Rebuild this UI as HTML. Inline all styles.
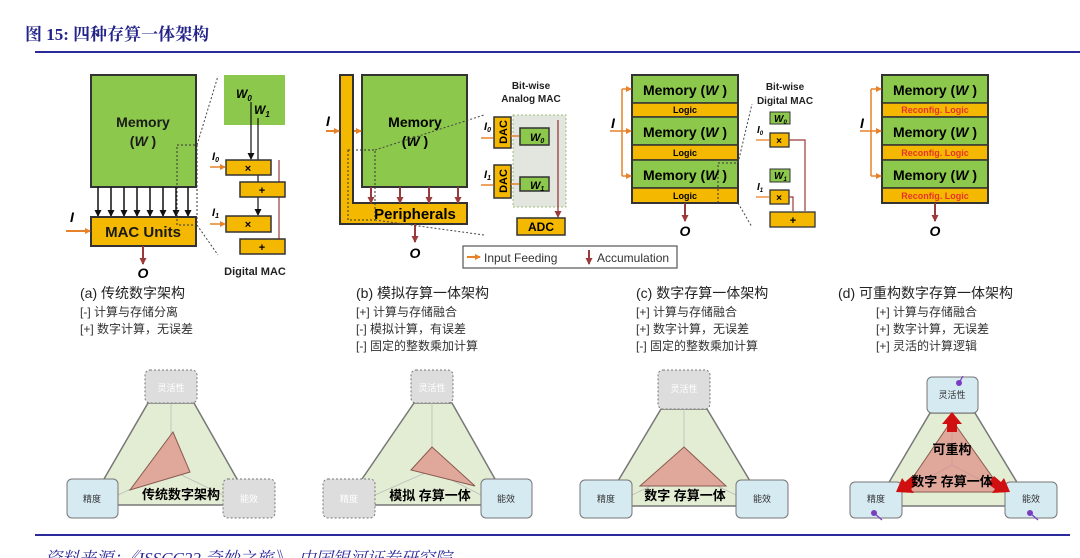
<!DOCTYPE html>
<html><head><meta charset="utf-8"><style>
html,body{margin:0;padding:0;background:#fff;}
svg{display:block;font-family:"Liberation Sans","Noto Sans CJK SC",sans-serif;}
</style></head><body>
<svg width="1080" height="558" viewBox="0 0 1080 558" xmlns="http://www.w3.org/2000/svg">
<defs>
<marker id="ao" markerWidth="6" markerHeight="6" refX="5" refY="3" orient="auto" markerUnits="userSpaceOnUse"><path d="M0,0 L6,3 L0,6z" fill="#e8822a"/></marker>
<marker id="ar" markerWidth="7" markerHeight="7" refX="6" refY="3.5" orient="auto" markerUnits="userSpaceOnUse"><path d="M0,0 L7,3.5 L0,7z" fill="#9b3a3a"/></marker>
<marker id="ak" markerWidth="7" markerHeight="7" refX="6" refY="3.5" orient="auto" markerUnits="userSpaceOnUse"><path d="M0,0 L7,3.5 L0,7z" fill="#111"/></marker>
</defs>
<!-- header -->
<text x="25" y="40" font-family="'Liberation Serif','Noto Serif CJK SC',serif" font-weight="bold" font-size="17" fill="#23238a">图 15:  四种存算一体架构</text>
<line x1="35" y1="52" x2="1080" y2="52" stroke="#2a2a9a" stroke-width="2"/>

<!-- Panel a -->
<rect x="91" y="75" width="105" height="112" fill="#8cc84b" stroke="#333" stroke-width="2"/>
<text x="143" y="127" text-anchor="middle" font-weight="bold" font-size="14" fill="#1a1a1a">Memory</text>
<text x="143" y="146" text-anchor="middle" font-weight="bold" font-size="14" fill="#1a1a1a">(<tspan font-style="italic">W</tspan> )</text>
<g stroke="#111" stroke-width="1.5" marker-end="url(#ak)">
<line x1="98" y1="187" x2="98" y2="216"/><line x1="111" y1="187" x2="111" y2="216"/><line x1="124" y1="187" x2="124" y2="216"/><line x1="137" y1="187" x2="137" y2="216"/><line x1="150" y1="187" x2="150" y2="216"/><line x1="163" y1="187" x2="163" y2="216"/><line x1="176" y1="187" x2="176" y2="216"/><line x1="188" y1="187" x2="188" y2="216"/>
</g>
<rect x="91" y="217" width="105" height="29" fill="#f5b800" stroke="#333" stroke-width="2"/>
<text x="143" y="237" text-anchor="middle" font-weight="bold" font-size="15" fill="#1a1a1a">MAC Units</text>
<text x="70" y="222" font-weight="bold" font-style="italic" font-size="14">I</text>
<line x1="66" y1="231" x2="90" y2="231" stroke="#e8822a" stroke-width="2" marker-end="url(#ao)"/>
<line x1="143" y1="246" x2="143" y2="264" stroke="#9b3a3a" stroke-width="2" marker-end="url(#ar)"/>
<text x="143" y="278" text-anchor="middle" font-weight="bold" font-style="italic" font-size="14">O</text>
<rect x="177" y="145" width="20" height="80" fill="none" stroke="#333" stroke-dasharray="2,2"/>
<line x1="197" y1="145" x2="218" y2="76" stroke="#444" stroke-dasharray="2,2"/>
<line x1="197" y1="225" x2="218" y2="255" stroke="#444" stroke-dasharray="2,2"/>
<rect x="224" y="75" width="61" height="50" fill="#8cc84b"/>
<text x="236" y="98" font-weight="bold" font-style="italic" font-size="12">W<tspan font-size="8" dy="3">0</tspan></text>
<text x="254" y="114" font-weight="bold" font-style="italic" font-size="12">W<tspan font-size="8" dy="3">1</tspan></text>
<line x1="251" y1="102" x2="251" y2="159" stroke="#111" stroke-width="1.2" marker-end="url(#ak)"/>
<line x1="258" y1="118" x2="258" y2="215" stroke="#111" stroke-width="1.2" marker-end="url(#ak)"/>
<line x1="279" y1="160" x2="279" y2="250" stroke="#9b3a3a" stroke-width="1.2"/>
<rect x="226" y="160" width="45" height="15" fill="#f5b800" stroke="#333" stroke-width="1.5"/><text x="248" y="172" text-anchor="middle" font-weight="bold" font-size="11">×</text>
<rect x="240" y="182" width="45" height="15" fill="#f5b800" stroke="#333" stroke-width="1.5"/><text x="262" y="194" text-anchor="middle" font-weight="bold" font-size="11">+</text>
<rect x="226" y="216" width="45" height="16" fill="#f5b800" stroke="#333" stroke-width="1.5"/><text x="248" y="228" text-anchor="middle" font-weight="bold" font-size="11">×</text>
<rect x="240" y="239" width="45" height="15" fill="#f5b800" stroke="#333" stroke-width="1.5"/><text x="262" y="251" text-anchor="middle" font-weight="bold" font-size="11">+</text>
<text x="212" y="160" font-weight="bold" font-style="italic" font-size="11">I<tspan font-size="7" dy="2">0</tspan></text>
<text x="212" y="216" font-weight="bold" font-style="italic" font-size="11">I<tspan font-size="7" dy="2">1</tspan></text>
<line x1="210" y1="167" x2="225" y2="167" stroke="#e8822a" stroke-width="1.5" marker-end="url(#ao)"/>
<line x1="210" y1="224" x2="225" y2="224" stroke="#e8822a" stroke-width="1.5" marker-end="url(#ao)"/>
<text x="255" y="275" text-anchor="middle" font-weight="bold" font-size="11" fill="#222">Digital MAC</text>

<!-- Panel b -->
<path d="M340,75 H353 V203 H467 V224 H340 Z" fill="#f5b800" stroke="#333" stroke-width="2"/>
<rect x="362" y="75" width="105" height="112" fill="#8cc84b" stroke="#333" stroke-width="2"/>
<text x="415" y="127" text-anchor="middle" font-weight="bold" font-size="14">Memory</text>
<text x="415" y="146" text-anchor="middle" font-weight="bold" font-size="14">(<tspan font-style="italic">W</tspan> )</text>
<text x="415" y="219" text-anchor="middle" font-weight="bold" font-size="15">Peripherals</text>
<text x="326" y="126" font-weight="bold" font-style="italic" font-size="14">I</text>
<line x1="326" y1="131" x2="339" y2="131" stroke="#e8822a" stroke-width="2" marker-end="url(#ao)"/>
<line x1="354" y1="131" x2="361" y2="131" stroke="#e8822a" stroke-width="2" marker-end="url(#ao)"/>
<g stroke="#9b3a3a" stroke-width="2" marker-end="url(#ar)"><line x1="371" y1="187" x2="371" y2="203"/><line x1="400" y1="187" x2="400" y2="203"/><line x1="429" y1="187" x2="429" y2="203"/><line x1="458" y1="187" x2="458" y2="203"/><line x1="415" y1="224" x2="415" y2="242"/></g>
<text x="415" y="258" text-anchor="middle" font-weight="bold" font-style="italic" font-size="14">O</text>
<rect x="348" y="150" width="27" height="70" fill="none" stroke="#333" stroke-dasharray="2,2"/>
<line x1="375" y1="150" x2="484" y2="115" stroke="#444" stroke-dasharray="2,2"/>
<line x1="375" y1="220" x2="484" y2="235" stroke="#444" stroke-dasharray="2,2"/>
<text x="531" y="89" text-anchor="middle" font-weight="bold" font-size="10" fill="#222">Bit-wise</text>
<text x="531" y="102" text-anchor="middle" font-weight="bold" font-size="10" fill="#222">Analog MAC</text>
<rect x="513" y="115" width="53" height="92" fill="#e3e6de" stroke="#9bbf7b" stroke-dasharray="2,2"/>
<rect x="494" y="117" width="17" height="31" fill="#f5b800" stroke="#333" stroke-width="1.5"/>
<text transform="translate(507,132) rotate(-90)" text-anchor="middle" font-weight="bold" font-size="11">DAC</text>
<rect x="494" y="165" width="17" height="33" fill="#f5b800" stroke="#333" stroke-width="1.5"/>
<text transform="translate(507,181) rotate(-90)" text-anchor="middle" font-weight="bold" font-size="11">DAC</text>
<rect x="520" y="128" width="29" height="17" fill="#8cc84b" stroke="#333" stroke-width="1.5"/><text x="530" y="141" font-weight="bold" font-style="italic" font-size="11">W<tspan font-size="7" dy="2">0</tspan></text>
<rect x="520" y="177" width="29" height="14" fill="#8cc84b" stroke="#333" stroke-width="1.5"/><text x="530" y="189" font-weight="bold" font-style="italic" font-size="11">W<tspan font-size="7" dy="2">1</tspan></text>
<line x1="558" y1="120" x2="558" y2="217" stroke="#9b3a3a" stroke-width="1.3" marker-end="url(#ar)"/>
<line x1="511" y1="136" x2="519" y2="136" stroke="#e8822a" stroke-width="1.5"/>
<line x1="511" y1="184" x2="519" y2="184" stroke="#e8822a" stroke-width="1.5"/>
<line x1="481" y1="138" x2="493" y2="138" stroke="#e8822a" stroke-width="1.5"/>
<line x1="481" y1="185" x2="493" y2="185" stroke="#e8822a" stroke-width="1.5"/>
<text x="484" y="130" font-weight="bold" font-style="italic" font-size="11">I<tspan font-size="7" dy="2">0</tspan></text>
<text x="484" y="178" font-weight="bold" font-style="italic" font-size="11">I<tspan font-size="7" dy="2">1</tspan></text>
<rect x="517" y="218" width="48" height="17" fill="#f5b800" stroke="#333" stroke-width="1.5"/>
<text x="541" y="231" text-anchor="middle" font-weight="bold" font-size="12">ADC</text>
<rect x="463" y="246" width="214" height="22" fill="#fff" stroke="#555" stroke-width="1.2"/>
<line x1="467" y1="257" x2="480" y2="257" stroke="#e8822a" stroke-width="2" marker-end="url(#ao)"/>
<text x="484" y="262" font-size="12" fill="#333">Input Feeding</text>
<line x1="589" y1="250" x2="589" y2="264" stroke="#9b3a3a" stroke-width="2" marker-end="url(#ar)"/>
<text x="597" y="262" font-size="12" fill="#333">Accumulation</text>

<!-- Panel c -->
<g stroke="#333" stroke-width="1.5">
<rect x="632" y="75" width="106" height="28" fill="#8cc84b"/><rect x="632" y="103" width="106" height="14" fill="#f5b800"/>
<rect x="632" y="117" width="106" height="28" fill="#8cc84b"/><rect x="632" y="145" width="106" height="15" fill="#f5b800"/>
<rect x="632" y="160" width="106" height="28" fill="#8cc84b"/><rect x="632" y="188" width="106" height="15" fill="#f5b800"/>
</g>
<rect x="632" y="75" width="106" height="128" fill="none" stroke="#333" stroke-width="2"/>
<g font-weight="bold" font-size="14" text-anchor="middle"><text x="685" y="95">Memory (<tspan font-style="italic">W</tspan> )</text><text x="685" y="137">Memory (<tspan font-style="italic">W</tspan> )</text><text x="685" y="180">Memory (<tspan font-style="italic">W</tspan> )</text></g>
<g font-weight="bold" font-size="9" text-anchor="middle"><text x="685" y="113">Logic</text><text x="685" y="156">Logic</text><text x="685" y="199">Logic</text></g>
<text x="611" y="128" font-weight="bold" font-style="italic" font-size="14">I</text>
<path d="M622,89 V176 M610,131 H622" stroke="#e8822a" stroke-width="1.5" fill="none"/>
<g stroke="#e8822a" stroke-width="1.5" marker-end="url(#ao)"><line x1="622" y1="89" x2="631" y2="89"/><line x1="622" y1="131" x2="631" y2="131"/><line x1="622" y1="176" x2="631" y2="176"/></g>
<line x1="685" y1="203" x2="685" y2="221" stroke="#9b3a3a" stroke-width="2" marker-end="url(#ar)"/>
<text x="685" y="236" text-anchor="middle" font-weight="bold" font-style="italic" font-size="14">O</text>
<rect x="718" y="163" width="20" height="40" fill="none" stroke="#333" stroke-dasharray="2,2"/>
<line x1="738" y1="163" x2="752" y2="104" stroke="#444" stroke-dasharray="2,2"/>
<line x1="738" y1="203" x2="752" y2="227" stroke="#444" stroke-dasharray="2,2"/>
<text x="785" y="90" text-anchor="middle" font-weight="bold" font-size="10" fill="#222">Bit-wise</text>
<text x="785" y="104" text-anchor="middle" font-weight="bold" font-size="10" fill="#222">Digital MAC</text>
<rect x="770" y="112" width="20" height="12" fill="#8cc84b" stroke="#333"/><text x="774" y="122" font-weight="bold" font-style="italic" font-size="10">W<tspan font-size="6" dy="2">0</tspan></text>
<rect x="770" y="133" width="19" height="14" fill="#f5b800" stroke="#333" stroke-width="1.3"/><text x="779" y="144" text-anchor="middle" font-weight="bold" font-size="10">×</text>
<rect x="770" y="169" width="20" height="13" fill="#8cc84b" stroke="#333"/><text x="774" y="179" font-weight="bold" font-style="italic" font-size="10">W<tspan font-size="6" dy="2">1</tspan></text>
<rect x="770" y="190" width="19" height="14" fill="#f5b800" stroke="#333" stroke-width="1.3"/><text x="779" y="201" text-anchor="middle" font-weight="bold" font-size="10">×</text>
<rect x="770" y="212" width="45" height="15" fill="#f5b800" stroke="#333" stroke-width="1.3"/><text x="793" y="224" text-anchor="middle" font-weight="bold" font-size="11">+</text>
<path d="M789,140 H805 V211 M789,197 H793 V211" stroke="#9b3a3a" stroke-width="1.2" fill="none"/>
<text x="757" y="133" font-weight="bold" font-style="italic" font-size="10">I<tspan font-size="6" dy="2">0</tspan></text>
<text x="757" y="190" font-weight="bold" font-style="italic" font-size="10">I<tspan font-size="6" dy="2">1</tspan></text>
<line x1="756" y1="140" x2="769" y2="140" stroke="#e8822a" stroke-width="1.3"/>
<line x1="756" y1="197" x2="769" y2="197" stroke="#e8822a" stroke-width="1.3"/>

<!-- Panel d -->
<g stroke="#333" stroke-width="1.5">
<rect x="882" y="75" width="106" height="28" fill="#8cc84b"/><rect x="882" y="103" width="106" height="14" fill="#f5b800"/>
<rect x="882" y="117" width="106" height="28" fill="#8cc84b"/><rect x="882" y="145" width="106" height="15" fill="#f5b800"/>
<rect x="882" y="160" width="106" height="28" fill="#8cc84b"/><rect x="882" y="188" width="106" height="15" fill="#f5b800"/>
</g>
<rect x="882" y="75" width="106" height="128" fill="none" stroke="#333" stroke-width="2"/>
<g font-weight="bold" font-size="14" text-anchor="middle"><text x="935" y="95">Memory (<tspan font-style="italic">W</tspan> )</text><text x="935" y="137">Memory (<tspan font-style="italic">W</tspan> )</text><text x="935" y="180">Memory (<tspan font-style="italic">W</tspan> )</text></g>
<g font-weight="bold" font-size="9" text-anchor="middle" fill="#e8332a"><text x="935" y="113">Reconfig. Logic</text><text x="935" y="156">Reconfig. Logic</text><text x="935" y="199">Reconfig. Logic</text></g>
<text x="860" y="128" font-weight="bold" font-style="italic" font-size="14">I</text>
<path d="M871,89 V176 M860,131 H871" stroke="#e8822a" stroke-width="1.5" fill="none"/>
<g stroke="#e8822a" stroke-width="1.5" marker-end="url(#ao)"><line x1="871" y1="89" x2="881" y2="89"/><line x1="871" y1="131" x2="881" y2="131"/><line x1="871" y1="176" x2="881" y2="176"/></g>
<line x1="935" y1="203" x2="935" y2="221" stroke="#9b3a3a" stroke-width="2" marker-end="url(#ar)"/>
<text x="935" y="236" text-anchor="middle" font-weight="bold" font-style="italic" font-size="14">O</text>

<!-- captions -->
<g font-size="14" fill="#222">
<text x="80" y="298">(a) 传统数字架构</text>
<text x="356" y="298">(b) 模拟存算一体架构</text>
<text x="636" y="298">(c) 数字存算一体架构</text>
<text x="838" y="298">(d) 可重构数字存算一体架构</text>
</g>
<g font-size="12" fill="#333">
<text x="80" y="316">[-] 计算与存储分离</text><text x="80" y="333">[+] 数字计算，无误差</text>
<text x="356" y="316">[+] 计算与存储融合</text><text x="356" y="333">[-] 模拟计算，有误差</text><text x="356" y="350">[-] 固定的整数乘加计算</text>
<text x="636" y="316">[+] 计算与存储融合</text><text x="636" y="333">[+] 数字计算，无误差</text><text x="636" y="350">[-] 固定的整数乘加计算</text>
<text x="876" y="316">[+] 计算与存储融合</text><text x="876" y="333">[+] 数字计算，无误差</text><text x="876" y="350">[+] 灵活的计算逻辑</text>
</g>

<!-- triangles -->
<g id="tA">
<polygon points="148,403 194,403 237,479 223,505 118,505 104,479" fill="#e3edd3" stroke="#777" stroke-width="1.5"/>
<g stroke="#bbb" stroke-width="0.8"><line x1="171" y1="470" x2="171" y2="403"/><line x1="171" y1="470" x2="118" y2="495"/><line x1="171" y1="470" x2="223" y2="495"/></g>
<polygon points="173,432 190,472 130,490" fill="#e0a89a" stroke="#8a5a50"/>
<rect x="145" y="370" width="52" height="33" rx="5" fill="#ddd" stroke="#777" stroke-dasharray="2,2"/>
<text x="171" y="391" text-anchor="middle" font-size="9" fill="#fff">灵活性</text>
<rect x="67" y="479" width="51" height="39" rx="5" fill="#d6eaf2" stroke="#777"/>
<text x="92" y="502" text-anchor="middle" font-size="9" fill="#333">精度</text>
<rect x="223" y="479" width="52" height="39" rx="5" fill="#ddd" stroke="#777" stroke-dasharray="2,2"/>
<text x="249" y="502" text-anchor="middle" font-size="9" fill="#fff">能效</text>
<text x="181" y="499" text-anchor="middle" font-weight="bold" font-size="13">传统数字架构</text>
</g>
<g>
<polygon points="414,403 452,403 495,479 481,505 375,505 362,479" fill="#e3edd3" stroke="#777" stroke-width="1.5"/>
<g stroke="#bbb" stroke-width="0.8"><line x1="432" y1="470" x2="432" y2="403"/><line x1="432" y1="470" x2="375" y2="495"/><line x1="432" y1="470" x2="481" y2="495"/></g>
<polygon points="432,447 475,486 411,470" fill="#e0a89a" stroke="#8a5a50"/>
<rect x="411" y="370" width="42" height="33" rx="5" fill="#ddd" stroke="#777" stroke-dasharray="2,2"/>
<text x="432" y="391" text-anchor="middle" font-size="9" fill="#fff">灵活性</text>
<rect x="323" y="479" width="52" height="39" rx="5" fill="#ddd" stroke="#777" stroke-dasharray="2,2"/>
<text x="349" y="502" text-anchor="middle" font-size="9" fill="#fff">精度</text>
<rect x="481" y="479" width="51" height="39" rx="5" fill="#d6eaf2" stroke="#777"/>
<text x="506" y="502" text-anchor="middle" font-size="9" fill="#333">能效</text>
<text x="430" y="500" text-anchor="middle" font-weight="bold" font-size="13">模拟 存算一体</text>
</g>
<g>
<polygon points="661,409 707,409 750,481 736,506 632,506 618,481" fill="#e3edd3" stroke="#777" stroke-width="1.5"/>
<g stroke="#bbb" stroke-width="0.8"><line x1="684" y1="470" x2="684" y2="409"/><line x1="684" y1="470" x2="632" y2="495"/><line x1="684" y1="470" x2="736" y2="495"/></g>
<polygon points="684,447 726,486 640,486" fill="#e0a89a" stroke="#8a5a50"/>
<rect x="658" y="370" width="52" height="39" rx="5" fill="#ddd" stroke="#777" stroke-dasharray="2,2"/>
<text x="684" y="392" text-anchor="middle" font-size="9" fill="#fff">灵活性</text>
<rect x="580" y="480" width="52" height="38" rx="5" fill="#d6eaf2" stroke="#777"/>
<text x="606" y="502" text-anchor="middle" font-size="9" fill="#333">精度</text>
<rect x="736" y="480" width="52" height="38" rx="5" fill="#d6eaf2" stroke="#777"/>
<text x="762" y="502" text-anchor="middle" font-size="9" fill="#333">能效</text>
<text x="685" y="500" text-anchor="middle" font-weight="bold" font-size="13">数字 存算一体</text>
</g>
<g>
<polygon points="930,413 975,413 1018,484 1005,506 902,506 888,484" fill="#e3edd3" stroke="#777" stroke-width="1.5"/>
<polygon points="952,420 1003,492 903,492" fill="#e0a89a" stroke="#8a5a50"/>
<g stroke="#c99" stroke-width="0.8"><line x1="952" y1="465" x2="952" y2="420"/><line x1="952" y1="465" x2="903" y2="492"/><line x1="952" y1="465" x2="1003" y2="492"/></g>
<rect x="927" y="377" width="51" height="36" rx="5" fill="#d6eaf2" stroke="#777"/>
<text x="952" y="398" text-anchor="middle" font-size="9" fill="#333">灵活性</text>
<rect x="850" y="482" width="52" height="36" rx="5" fill="#d6eaf2" stroke="#777"/>
<text x="876" y="502" text-anchor="middle" font-size="9" fill="#333">精度</text>
<rect x="1005" y="482" width="52" height="36" rx="5" fill="#d6eaf2" stroke="#777"/>
<text x="1031" y="502" text-anchor="middle" font-size="9" fill="#333">能效</text>
<polygon points="952,412 962,424 957,424 957,432 947,432 947,424 942,424" fill="#d01010"/>
<polygon points="896,492 902,478 905,482 912,476 918,484 911,489 914,493" fill="#d01010"/>
<polygon points="1010,492 1004,478 1001,482 994,476 988,484 995,489 992,493" fill="#d01010"/>
<text x="952" y="454" text-anchor="middle" font-weight="bold" font-size="13">可重构</text>
<text x="952" y="486" text-anchor="middle" font-weight="bold" font-size="13">数字 存算一体</text>
<g fill="#7a3cc0"><circle cx="959" cy="383" r="3"/><circle cx="874" cy="513" r="3"/><circle cx="1030" cy="513" r="3"/></g>
<g stroke="#7a3cc0" stroke-width="1.2"><line x1="959" y1="383" x2="963" y2="376"/><line x1="874" y1="513" x2="882" y2="520"/><line x1="1030" y1="513" x2="1038" y2="520"/></g>
</g>

<!-- footer -->
<line x1="35" y1="535" x2="1070" y2="535" stroke="#2a2a9a" stroke-width="2"/>
<text x="45" y="564" font-family="'Liberation Serif','Noto Serif CJK SC',serif" font-style="italic" font-size="17" fill="#2a2a9a">资料来源：《ISSCC22 奇妙之旅》，中国银河证券研究院</text>
</svg>
</body></html>
